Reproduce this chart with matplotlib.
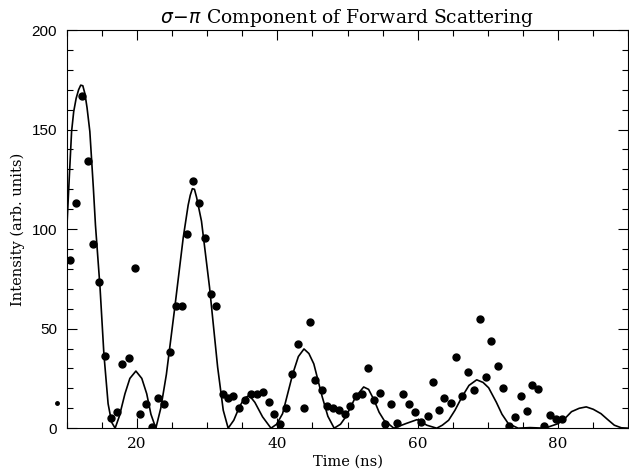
import matplotlib
matplotlib.use("Agg")
import matplotlib.pyplot as plt
from matplotlib.ticker import MultipleLocator

# measured counts (time in ns, intensity in arb. units)
time_pts = [10.5, 11.35, 12.2, 13.1, 13.8, 14.65, 15.46, 16.3, 17.1, 17.9,
            18.9, 19.7, 20.5, 21.3, 22.2, 23.0, 23.8, 24.7, 25.5, 26.4,
            27.2, 28.0, 28.9, 29.7, 30.5, 31.3, 32.2, 32.95, 33.75, 34.6,
            35.4, 36.25, 37.05, 37.9, 38.75, 39.5, 40.4, 41.2, 42.1, 42.9,
            43.8, 44.6, 45.4, 46.3, 47.1, 47.9, 48.8, 49.6, 50.4, 51.2,
            52.1, 52.9, 53.8, 54.6, 55.4, 56.25, 57.1, 57.95, 58.8, 59.65,
            60.5, 61.4, 62.2, 63.0, 63.8, 64.7, 65.5, 66.3, 67.2, 68.0,
            68.9, 69.7, 70.5, 71.4, 72.2, 73.0, 73.8, 74.7, 75.5, 76.3,
            77.2, 77.95, 78.9, 79.7, 80.5]
counts = [84.5, 113, 167, 134, 92.7, 73.5, 36.5, 5.2, 8.3, 32.3,
          35.5, 80.5, 7.3, 12.3, 0.5, 15.2, 12.3, 38.3, 61.5, 61.5,
          97.3, 124, 113, 95.5, 67.5, 61.5, 17.3, 15.2, 16.2, 10,
          14.2, 17.2, 17.2, 18.2, 13, 7, 2.2, 10, 27, 42.3,
          10, 53.3, 24.2, 19, 11.3, 10.2, 9, 7, 11.3, 16,
          17, 30, 14, 17.8, 2.2, 12, 2.8, 17, 12, 8,
          3, 6.2, 23.2, 9, 15, 12.8, 36, 16, 28, 19,
          55, 25.8, 44, 31, 20, 1, 5.8, 16, 8.7, 21.8,
          19.7, 1, 6.7, 4.7, 4.7]

# stray point left of the frame
stray_time = [8.6]
stray_count = [12.5]

# fitted curve
fit_time = [10.0, 10.4, 10.7, 11.0, 11.35, 11.7, 12.0, 12.3, 12.6, 12.9,
            13.3, 13.8, 14.1, 14.75, 15.3, 15.9, 16.4, 16.9, 17.5, 18.3,
            19.0, 19.86, 20.7, 21.4, 22.0, 22.7, 23.4, 24.2, 25.4, 26.6,
            27.3, 27.6, 27.9, 28.2, 28.5, 29.2, 30.35, 31.5, 32.3, 33.0,
            33.8, 34.6, 35.3, 36.0, 36.8, 37.9, 39.1, 39.9, 40.75, 42.2,
            43.0, 43.8, 44.5, 45.2, 46.4, 47.2, 48.1, 49.0, 49.75, 51.15,
            52.3, 53.0, 53.8, 54.5, 55.2, 56.6, 58.3, 59.9, 61.3, 62.7,
            63.5, 64.4, 65.3, 66.3, 67.3, 68.4, 69.3, 70.1, 71.2, 72.0,
            72.9, 74.3, 76.0, 78.1, 80.0, 81.0, 81.9, 83.0, 84.0, 85.0,
            86.1, 87.0, 88.0, 89.0, 90.0]
fit_vals = [99, 128, 149, 159, 165.7, 170, 172.3, 172, 168, 161,
            149, 120.7, 102, 70.7, 37.3, 12.3, 3, 0, 6, 17.3,
            25, 28.7, 25, 17.3, 7, 0, 10, 27, 60.7, 95.7,
            112, 117, 120.3, 120, 116, 104, 70.7, 30.7, 9, 0,
            4, 10.7, 15, 16.5, 13, 5.7, 0, 2, 7.3, 27.3,
            36, 39.8, 37.5, 32.3, 15.7, 6, 0, 2, 5.7, 15.7,
            20.7, 19.5, 14, 8, 4, 0, 2.3, 4.3, 1.5, 0,
            1.5, 4, 9, 15.7, 21.5, 24.3, 23, 20.3, 13, 7,
            2.3, 0, 0.3, 0, 2.3, 5, 8.3, 10, 10.7, 9.5,
            7.3, 4.5, 1.5, 0.2, 0]

plt.rcParams['font.family'] = 'DejaVu Serif'

fig = plt.figure(figsize=(6.29, 4.69), dpi=100)
ax = fig.add_axes([0.106, 0.087, 0.893, 0.849])

ax.plot(fit_time, fit_vals, color='black', lw=1.2)
ax.plot(time_pts, counts, 'o', color='black', ms=5)
ax.plot(stray_time, stray_count, 'o', color='black', ms=2.5, clip_on=False)

ax.set_xlim(10, 90)
ax.set_ylim(0, 200)
ax.xaxis.set_major_locator(MultipleLocator(20))
ax.xaxis.set_minor_locator(MultipleLocator(5))
ax.yaxis.set_major_locator(MultipleLocator(50))
ax.yaxis.set_minor_locator(MultipleLocator(10))
ax.tick_params(which='both', direction='in', top=True, right=True, width=0.8)
ax.tick_params(which='major', length=7)
ax.tick_params(which='minor', length=4)
ax.tick_params(axis='x', labelsize=11, pad=6)
ax.tick_params(axis='y', labelsize=11, pad=7)
for lbl in ax.get_yticklabels():
    lbl.set_family('Liberation Sans')
for s in ax.spines.values():
    s.set_linewidth(0.8)

ax.set_title(r'$\sigma\!-\!\pi$ Component of Forward Scattering',
             fontsize=13.5, pad=5)
ax.set_xlabel('Time (ns)', fontsize=10.5, labelpad=3)
ax.set_ylabel('Intensity (arb. units)', fontsize=10.5, labelpad=5)

fig.savefig('out.png', dpi=100)
